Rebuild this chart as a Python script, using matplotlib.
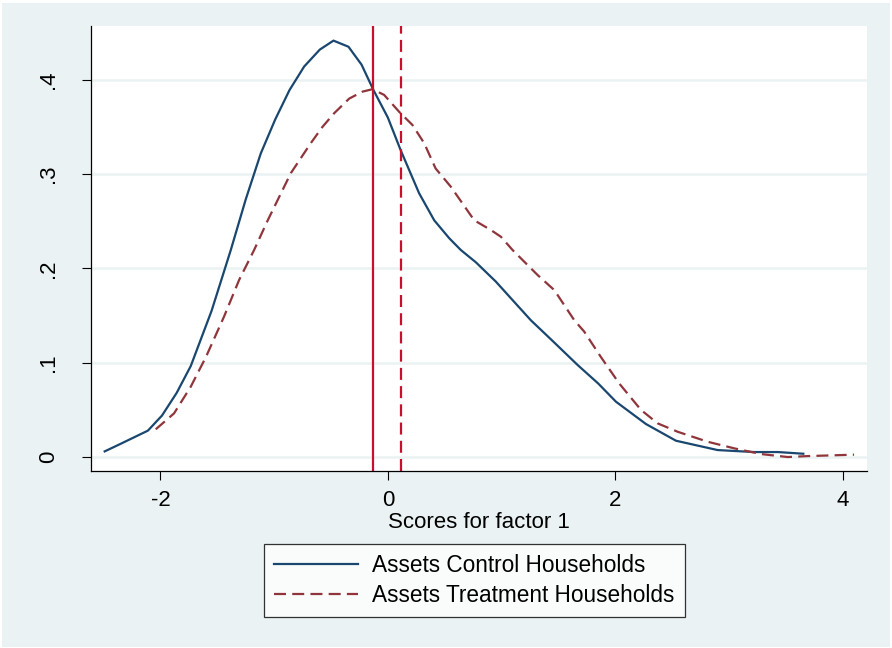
import matplotlib
matplotlib.use("Agg")
import matplotlib.pyplot as plt
from matplotlib.patches import Rectangle

plt.rcParams['font.family'] = ['Liberation Sans', 'DejaVu Sans']

# kernel density of factor scores, control group
ctrl_x = [-2.49, -2.35, -2.11, -1.986, -1.857, -1.733, -1.55, -1.381, -1.25, -1.117,
          -0.99, -0.865, -0.736, -0.598, -0.478, -0.346, -0.231, -0.126, 0.0, 0.112,
          0.275, 0.408, 0.54, 0.642, 0.774, 0.95, 1.1, 1.258, 1.45, 1.669, 1.85,
          2.006, 2.27, 2.534, 2.90, 3.22, 3.43, 3.654]
ctrl_y = [0.006, 0.014, 0.028, 0.044, 0.068, 0.0965, 0.155, 0.2195, 0.273, 0.322,
          0.358, 0.389, 0.414, 0.432, 0.4415, 0.435, 0.416, 0.389, 0.36, 0.3256,
          0.2797, 0.251, 0.232, 0.2195, 0.2065, 0.186, 0.166, 0.145, 0.123, 0.0976, 0.078,
          0.0587, 0.035, 0.0173, 0.0074, 0.0053, 0.0053, 0.0035]

# kernel density of factor scores, treatment group
trt_x = [-2.041, -1.88, -1.733, -1.60, -1.44, -1.308, -1.176, -1.058, -0.853, -0.678,
         -0.575, -0.472, -0.34, -0.223, -0.135, -0.033, 0.1, 0.217, 0.32, 0.42,
         0.554, 0.76, 0.906, 0.994, 1.097, 1.17, 1.317, 1.464, 1.64, 1.727, 1.874,
         2.035, 2.226, 2.373, 2.549, 2.813, 3.047, 3.28, 3.517, 3.69, 4.10]
trt_y = [0.0294, 0.0463, 0.0746, 0.106, 0.149, 0.1877, 0.2195, 0.2505, 0.301, 0.3327,
         0.350, 0.3645, 0.380, 0.3874, 0.390, 0.384, 0.366, 0.352, 0.3327, 0.306,
         0.2866, 0.251, 0.2407, 0.2336, 0.2195, 0.2107, 0.193, 0.177, 0.145, 0.133, 0.106,
         0.078, 0.050, 0.0357, 0.0268, 0.0162, 0.0092, 0.0032, 0.0, 0.001, 0.0025]

# group means
ctrl_mean = -0.126
trt_mean = 0.112

xticks = [-2, 0, 2, 4]
yticks = [0, 0.1, 0.2, 0.3, 0.4]
ylabels = ['0', '.1', '.2', '.3', '.4']

bg = '#eaf2f3'
navy = '#1a476f'
maroon = '#90353b'
red = '#c8102e'
dash = (5.4, 2.8)

fig = plt.figure(figsize=(8.92, 6.48), dpi=100, facecolor='white')
fig.patches.append(Rectangle((2 / 892, 1 / 648), 888 / 892, 644 / 648,
                             transform=fig.transFigure,
                             facecolor=bg, edgecolor='none', zorder=-10))

ax = fig.add_axes([90.7 / 892, 1 - 471 / 648, (867 - 90.7) / 892, (471 - 26) / 648])
ax.set_facecolor('white')

ax.plot(ctrl_x, ctrl_y, color=navy, lw=1.6, label='Assets Control Households')
ax.plot(trt_x, trt_y, color=maroon, lw=1.6, dashes=dash,
        label='Assets Treatment Households')
ax.axvline(ctrl_mean, color=red, lw=1.6)
ax.axvline(trt_mean, color=red, lw=1.6, dashes=dash)

ax.set_xlim(-2.613, 4.214)
ax.set_ylim(-0.0148, 0.457)
ax.set_xticks(xticks)
ax.set_xticklabels([str(t) for t in xticks])
ax.set_yticks(yticks)
ax.set_yticklabels(ylabels, rotation=90, va='center')
ax.grid(axis='y', color=bg, lw=1.8)
ax.set_axisbelow(True)

for s in ['top', 'right']:
    ax.spines[s].set_visible(False)
for s in ['left', 'bottom']:
    ax.spines[s].set_linewidth(0.9)
ax.tick_params(axis='both', labelsize=16, length=6.5, width=0.8, colors='black')
ax.tick_params(axis='y', pad=16)
ax.tick_params(axis='x', pad=7)

ax.set_xlabel('Scores for factor 1', fontsize=16, labelpad=1)

leg = fig.legend(loc='upper left', bbox_to_anchor=(264.3 / 892, 1 - 544 / 648),
                 fontsize=16.3, frameon=True, fancybox=False, handlelength=3.7,
                 handletextpad=0.62, borderpad=0.45, labelspacing=0.3, borderaxespad=0)
leg.get_frame().set_edgecolor('black')
leg.get_frame().set_linewidth(0.9)

fig.savefig('out.png', dpi=100, facecolor=fig.get_facecolor())
